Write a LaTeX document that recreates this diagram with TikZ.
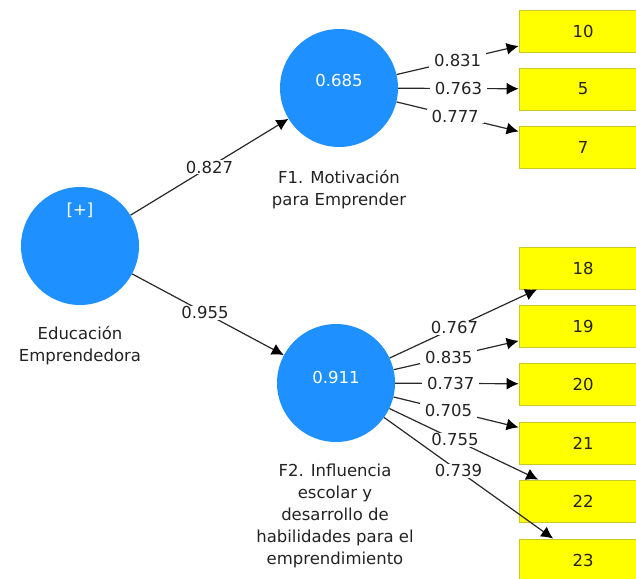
\documentclass[tikz,border=0pt]{standalone}
\usepackage{fontspec}
\setmainfont{DejaVu Sans}
\usetikzlibrary{arrows.meta}
\definecolor{plsblue}{RGB}{30,144,255}
\definecolor{plsyellow}{RGB}{255,255,0}
\definecolor{plsedge}{RGB}{200,200,40}
\definecolor{inkgray}{RGB}{35,35,35}
\definecolor{linegray}{RGB}{40,40,40}
\tikzset{
  latent/.style={circle, fill=plsblue, draw=none, minimum size=118pt, inner sep=0pt},
  intext/.style={text=white, font=\fontsize{16.5}{20}\selectfont, inner sep=0pt},
  indbox/.style={rectangle, fill=plsyellow, draw=plsedge, line width=0.8pt, minimum width=128pt, minimum height=42pt, inner sep=0pt, text=inkgray, font=\fontsize{16.5}{20}\selectfont},
  caption/.style={align=center, text=inkgray, font=\fontsize{16.5}{22}\selectfont, inner sep=0pt},
  conn/.style={draw=linegray, line width=1.2pt, -{Latex[length=12pt,width=12pt,black]}},
  wlab/.style={fill=white, text=inkgray, font=\fontsize{16.5}{20}\selectfont, inner xsep=5pt, inner ysep=1pt}
}
\begin{document}
\begin{tikzpicture}[x=1pt,y=-1pt]
\useasboundingbox (0,0) rectangle (636,578);
\clip (0,0) rectangle (636,578);
\fill[white] (0,0) rectangle (636,578);

% latent variables
\node[latent] (edu) at (80,246) {};
\node[latent] (f1) at (339,88) {};
\node[latent] (f2) at (336,383) {};
\node[intext] (edut) at (80,210) {[+]};
\node[intext] (f1t) at (339,80) {0.685};
\node[intext] (f2t) at (336,377) {0.911};

% captions
\node[caption] (educap) at (80,346) {Educación\\Emprendedora};
\node[caption] (f1cap) at (339,190) {F1. Motivación\\para Emprender};
\node[caption] (f2cap) at (335,516) {F2. Influencia\\escolar y\\desarrollo de\\habilidades para el\\emprendimiento};

% indicators
\node[indbox] (b10) at (583,31) {10};
\node[indbox] (b5) at (583,89) {5};
\node[indbox] (b7) at (583,147) {7};
\node[indbox] (b18) at (583,268) {18};
\node[indbox] (b19) at (583,326) {19};
\node[indbox] (b20) at (583,384) {20};
\node[indbox] (b21) at (583,443) {21};
\node[indbox] (b22) at (583,501) {22};
\node[indbox] (b23) at (583,560) {23};

% structural paths
\draw[conn] (edu) -- node[wlab, pos=0.5] {0.827} (f1);
\draw[conn] (edu) -- node[wlab, pos=0.48] {0.955} (f2);

% F1 loadings
\draw[conn] (f1) -- node[wlab, pos=0.5] {0.831} (b10);
\draw[conn] (f1) -- node[wlab, pos=0.5] {0.763} (b5);
\draw[conn] (f1) -- node[wlab, pos=0.48] {0.777} (b7);

% F2 loadings
\draw[conn] (f2) -- node[wlab, pos=0.44] {0.767} (b18);
\draw[conn] (f2) -- node[wlab, pos=0.44] {0.835} (b19);
\draw[conn] (f2) -- node[wlab, pos=0.45] {0.737} (b20);
\draw[conn] (f2) -- node[wlab, pos=0.44] {0.705} (b21);
\draw[conn] (f2) -- node[wlab, pos=0.44] {0.755} (b22);
\draw[conn] (f2) -- node[wlab, pos=0.44] {0.739} (b23);
\end{tikzpicture}
\end{document}
